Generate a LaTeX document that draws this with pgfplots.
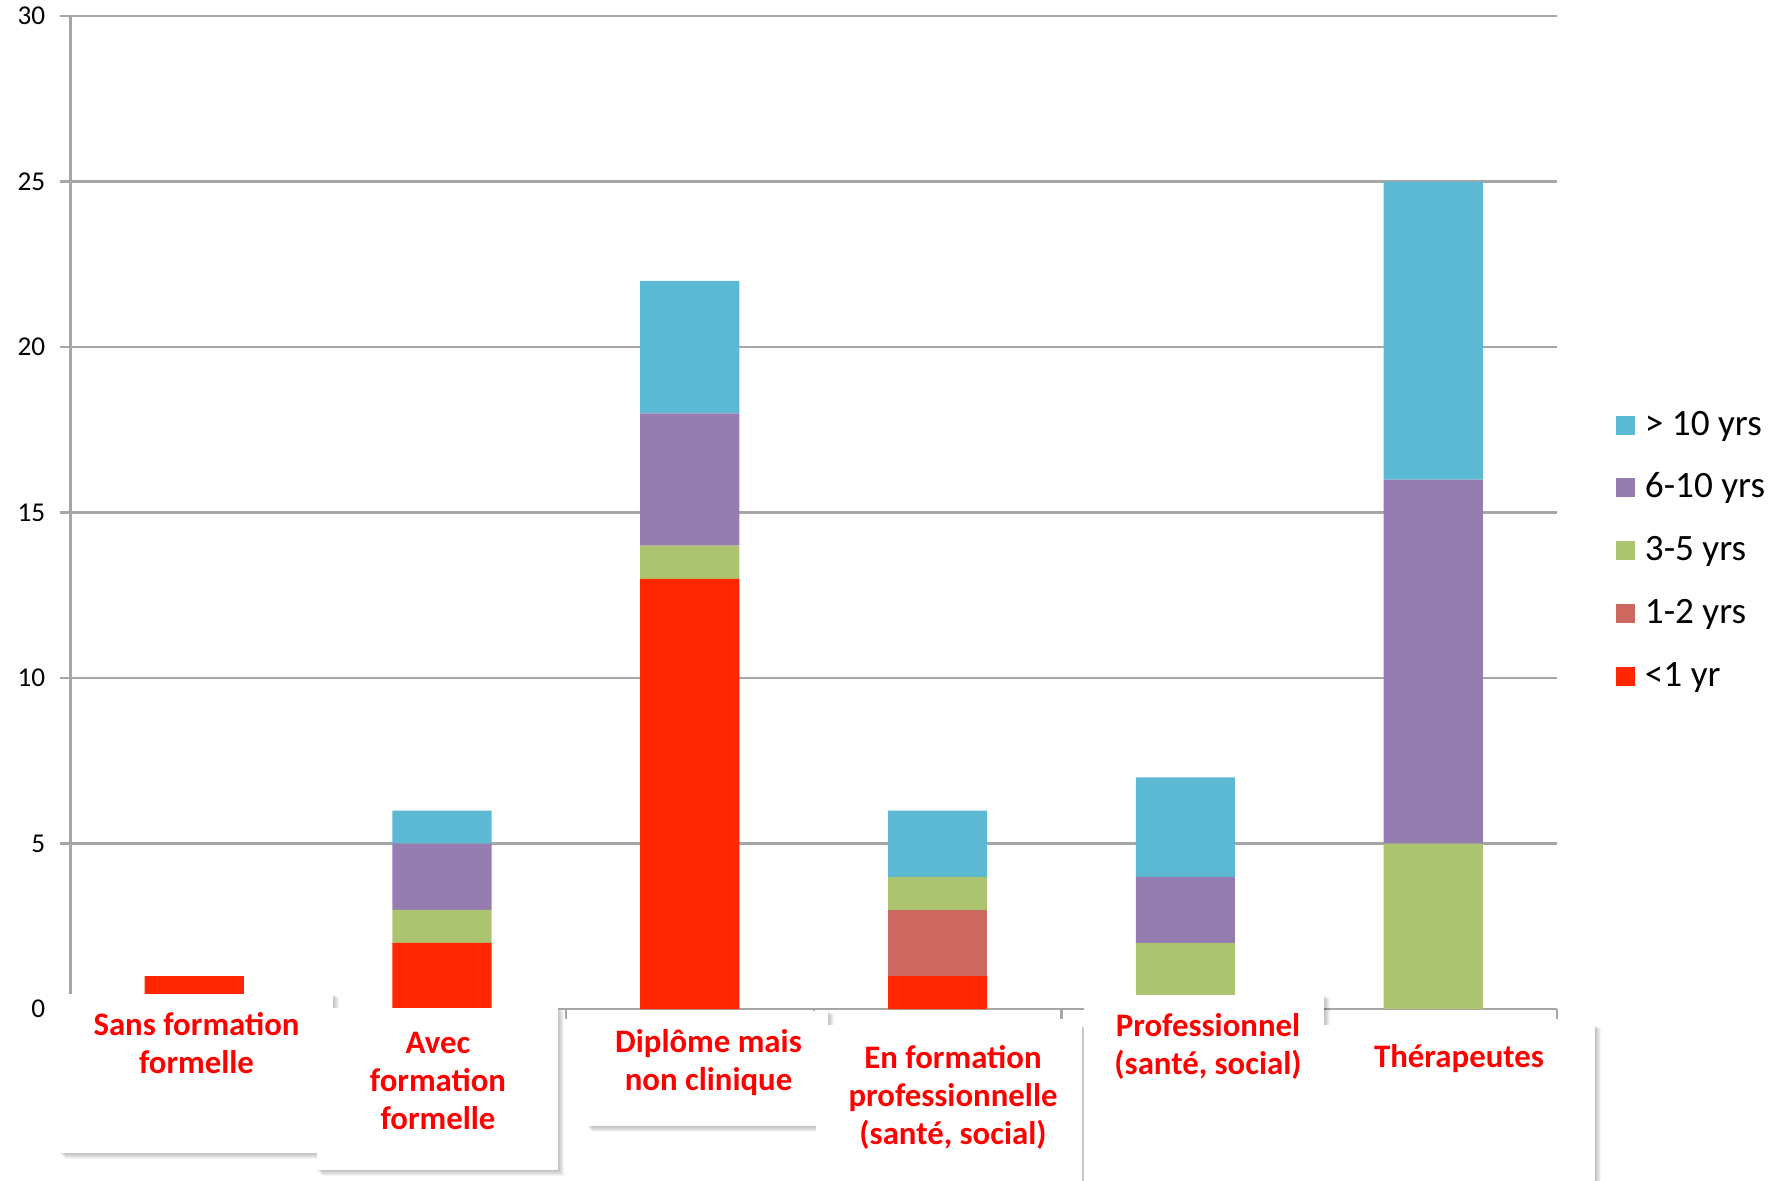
\documentclass[border=0pt]{standalone}
\usepackage{pgfplots}
\pgfplotsset{compat=1.18}
\usepackage{fontspec}
\setmainfont{Carlito}

\definecolor{cLess}{HTML}{FF2600}
\definecolor{cOneTwo}{HTML}{CD6860}
\definecolor{cThreeFive}{HTML}{ACC46F}
\definecolor{cSixTen}{HTML}{957DB2}
\definecolor{cTen}{HTML}{5BB9D3}
\definecolor{labred}{HTML}{FF0000}
\definecolor{gridgray}{HTML}{A6A6A6}

% white label card with a soft shadow; arguments: left, top, right, bottom (units from the top-left corner)
\newcommand{\labelbox}[4]{%
  \foreach \k in {1,...,6}{%
    \fill[black,opacity=0.045] ({#1+\k*1.0-1.5},{1180-#4-\k*1.0}) rectangle ({#3+\k*1.0},{1180-#2-\k*0.6});}
  \fill[white] (#1,{1180-#2}) rectangle (#3,{1180-#4});}

\tikzset{cat/.style={align=center, text=labred, inner sep=0pt, anchor=north,
    font=\fontsize{8.2}{9.5}\selectfont\bfseries}}

\begin{document}
\begin{tikzpicture}
\useasboundingbox (0,0) rectangle (444.5pt,295pt);
\begin{axis}[
  at={(17.575pt,42.7pt)}, anchor=south west,
  scale only axis, width=371.7pt, height=248.3pt,
  xmin=0, xmax=6, ymin=0, ymax=30,
  ybar stacked, bar width=0.4,
  axis x line*=bottom, axis y line*=left,
  axis line style={gridgray, line width=0.6pt, -},
  xtick={0,1,...,6}, xticklabels={},
  ytick={0,5,...,30},
  tick align=outside, major tick length=2.5pt,
  tick style={gridgray, line width=0.6pt},
  ymajorgrids, grid style={gridgray, line width=0.6pt},
  /pgf/number format/assume math mode=true,
  yticklabel style={font=\fontsize{6.8}{8}\selectfont, inner sep=0pt, xshift=-3.6pt},
  legend style={at={(1.0396,0.6043)}, anchor=north west, draw=none, fill=none,
    inner sep=0pt, outer sep=0pt, column sep=2.5pt, row sep=7.7pt,
    font=\fontsize{9.3}{10}\selectfont,
    nodes={inner sep=0pt, text height=6.5pt, text depth=1.5pt}},
  legend cell align=left, reverse legend,
  legend image code/.code={\fill[#1] (0pt,-2.375pt) rectangle (4.75pt,2.375pt);},
]
\addplot[fill=cLess, draw=none] coordinates {(0.5,1) (1.5,2) (2.5,13) (3.5,1) (4.5,0) (5.5,0)};
\addplot[fill=cOneTwo, draw=none] coordinates {(0.5,0) (1.5,0) (2.5,0) (3.5,2) (4.5,0) (5.5,0)};
\addplot[fill=cThreeFive, draw=none] coordinates {(0.5,0) (1.5,1) (2.5,1) (3.5,1) (4.5,2) (5.5,5)};
\addplot[fill=cSixTen, draw=none] coordinates {(0.5,0) (1.5,2) (2.5,4) (3.5,0) (4.5,2) (5.5,11)};
\addplot[fill=cTen, draw=none] coordinates {(0.5,0) (1.5,1) (2.5,4) (3.5,2) (4.5,3) (5.5,9)};
\legend{<1 yr, 1-2 yrs, 3-5 yrs, 6-10 yrs, > 10 yrs}
\end{axis}

% category cards under the bars
\begin{scope}[x=0.25pt, y=0.25pt]
\labelbox{60}{994}{333}{1153}
\node[cat] at (196.5,{1180-1008.4}) {\strut Sans formation\\\strut formelle};
\labelbox{317}{1008}{558}{1170}
\node[cat] at (438,{1180-1026.4}) {\strut Avec\\\strut formation\\\strut formelle};
\labelbox{587}{1011}{828}{1126}
\node[cat] at (708.5,{1180-1025.4}) {\strut Diplôme mais\\\strut non clinique};
\labelbox{816}{1025}{1082}{1190}
\node[cat] at (953,{1180-1041.4}) {\strut En formation\\\strut professionnelle\\\strut (santé, social)};
\labelbox{1084}{995}{1324}{1190}
\node[cat] at (1208,{1180-1009.4}) {\strut Professionnel\\\strut (santé, social)};
\labelbox{1324}{1025}{1595}{1190}
\node[cat] at (1459,{1180-1040.4}) {\strut Thérapeutes};
\end{scope}
\end{tikzpicture}
\end{document}
